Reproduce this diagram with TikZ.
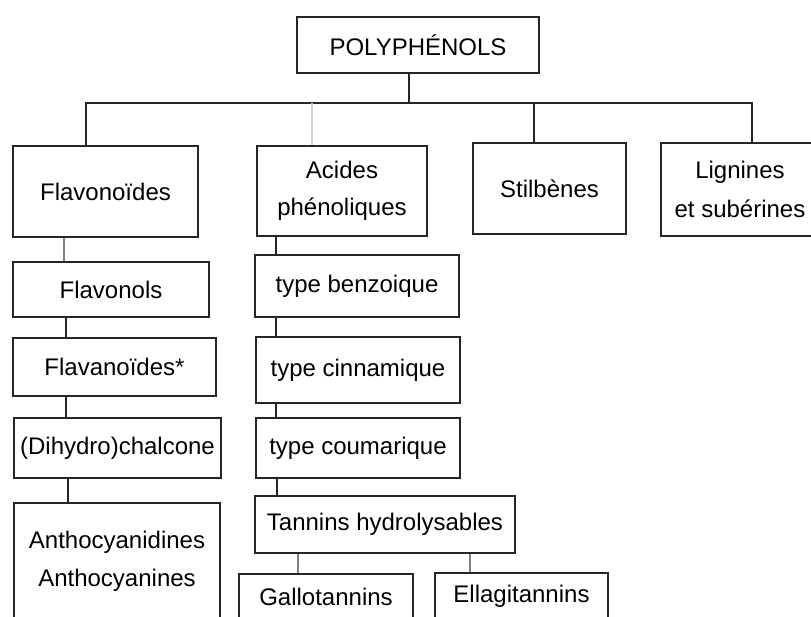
\documentclass[tikz,border=0pt]{standalone}
\usepackage{fontspec}
\setmainfont{Liberation Sans}
\begin{document}
\begin{tikzpicture}[x=0.5pt,y=-0.5pt,
  bx/.style={draw=black!85, line width=0.9pt, inner sep=0pt, align=center,
    font=\fontsize{12}{14.4}\selectfont},
  ln/.style={draw=black!85, line width=0.9pt},
  faint/.style={draw=black!18, line width=0.8pt},
  soft/.style={draw=black!50, line width=0.8pt}]
\useasboundingbox (0,0) rectangle (811,617);
\clip (0,0) rectangle (811,617);
% top level
\node[bx, minimum width=121pt, minimum height=28pt] (poly) at (418,45) {POLYPHÉNOLS};
\node[bx, minimum width=92.5pt, minimum height=45.5pt] (flav) at (105.5,191.5) {Flavonoïdes};
\node[bx, minimum width=85pt, minimum height=45pt] (acides) at (342,191) {Acides\\[4pt]phénoliques};
\node[bx, minimum width=76.5pt, minimum height=45.5pt] (stil) at (549.5,188.5) {Stilbènes};
\node[bx, minimum width=79pt, minimum height=46.5pt] (lign) at (740,189.5) {Lignines\\[5pt]et subérines};
% left column
\node[bx, minimum width=98pt, minimum height=27.5pt] (flavonols) at (111,289.5) {Flavonols};
\node[bx, minimum width=101.5pt, minimum height=29pt] (flavan) at (114.5,367) {Flavanoïdes*};
\node[bx, minimum width=103.5pt, minimum height=30pt] (chal) at (117.5,448) {(Dihydro)chalcone};
\node[bx, minimum width=103pt, minimum height=58pt] (antho) at (117,561) {Anthocyanidines\\[4.6pt]Anthocyanines};
% right column
\node[bx, minimum width=102pt, minimum height=31pt] (benz) at (357,286) {type benzoique};
\node[bx, minimum width=102pt, minimum height=33pt] (cinn) at (358,370) {type cinnamique};
\node[bx, minimum width=102pt, minimum height=30pt] (coum) at (358,448) {type coumarique};
\node[bx, minimum width=130pt, minimum height=28.5pt] (tann) at (385,524.5) {Tannins hydrolysables};
\node[bx, minimum width=87pt, minimum height=23pt] (gallo) at (326,597) {Gallotannins};
\node[bx, minimum width=86.5pt, minimum height=23.5pt] (ellag) at (521.5,596.5) {Ellagitannins};
% junction coordinates
\coordinate (j0) at (409,103);
\coordinate (bl) at (86,103);
\coordinate (br) at (752,103);
\coordinate (aj) at (312,103);
\coordinate (sj) at (534,103);
\coordinate (l1) at (64,0);
\coordinate (l2) at (66,0);
\coordinate (l3) at (68,0);
\coordinate (r1) at (276,0);
\coordinate (r2) at (277,0);
\coordinate (t1) at (298,0);
\coordinate (t2) at (470,0);
% connectors
\draw[ln] (poly.south -| j0) -- (j0);
\draw[ln] (flav.north -| bl) -- (bl) -- (br) -- (lign.north -| br);
\draw[faint] (aj) -- (acides.north -| aj);
\draw[ln] (sj) -- (stil.north -| sj);
\draw[soft] (flav.south -| l1) -- (flavonols.north -| l1);
\draw[ln] (flavonols.south -| l2) -- (flavan.north -| l2);
\draw[ln] (flavan.south -| l2) -- (chal.north -| l2);
\draw[ln] (chal.south -| l3) -- (antho.north -| l3);
\draw[ln] (acides.south -| r1) -- (benz.north -| r1);
\draw[ln] (benz.south -| r1) -- (cinn.north -| r1);
\draw[ln] (cinn.south -| r1) -- (coum.north -| r1);
\draw[ln] (coum.south -| r2) -- (tann.north -| r2);
\draw[soft] (tann.south -| t1) -- (gallo.north -| t1);
\draw[soft] (tann.south -| t2) -- (ellag.north -| t2);
\end{tikzpicture}
\end{document}
